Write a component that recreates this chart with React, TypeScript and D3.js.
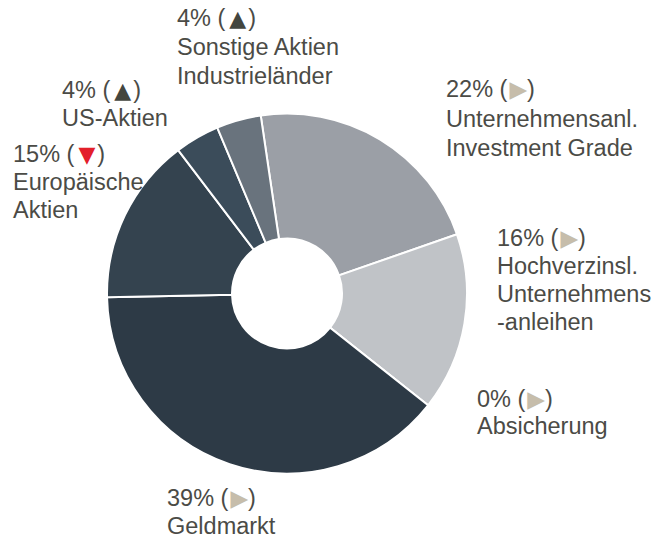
import React from "react";
import * as d3 from "d3";

const categories = [
  "Unternehmensanl. Investment Grade",
  "Hochverzinsl. Unternehmensanleihen",
  "Absicherung",
  "Geldmarkt",
  "Europäische Aktien",
  "US-Aktien",
  "Sonstige Aktien Industrieländer",
];
const values = [22, 16, 0, 39, 15, 4, 4];
const trends = ["flat", "flat", "flat", "flat", "down", "up", "up"];
const labelLines = [
  ["Unternehmensanl.", "Investment Grade"],
  ["Hochverzinsl.", "Unternehmens", "-anleihen"],
  ["Absicherung"],
  ["Geldmarkt"],
  ["Europäische", "Aktien"],
  ["US-Aktien"],
  ["Sonstige Aktien", "Industrieländer"],
];
const colors = ["#9b9fa6", "#c0c3c7", "#c0c3c7", "#2d3a46", "#34434f", "#3b4c5a", "#69737d"];

// label layout (x, first baseline, line spacing)
const labelPos: [number, number, number][] = [
  [446, 97, 29.5],
  [497, 246, 28],
  [477, 407, 27],
  [167, 506, 28],
  [13, 162, 28],
  [62, 98, 27.5],
  [177, 26, 29],
];

const trendGlyph: Record<string, string> = { up: "▲", down: "▼", flat: "▶" };
const trendColor: Record<string, string> = { up: "#43463f", down: "#e3202a", flat: "#c6bdab" };
const trendSize: Record<string, number> = { up: 22, down: 22, flat: 23 };

const W = 658;
const H = 541;
const cx = 287;
const cy = 293.5;
const rOuter = 180;
const rInner = 55;

export default function App() {
  const pie = d3
    .pie<number>()
    .sort(null)
    .value((d) => d)
    .startAngle((-8.4 * Math.PI) / 180)
    .endAngle(((360 - 8.4) * Math.PI) / 180);
  const arcs = pie(values);
  const arc = d3.arc<d3.PieArcDatum<number>>().innerRadius(rInner).outerRadius(rOuter);

  return (
    <svg
      width={W}
      height={H}
      style={{ position: "absolute", left: 0, top: 0, background: "#ffffff" }}
      fontFamily="'Liberation Sans', Arial, sans-serif"
    >
      <g transform={`translate(${cx},${cy})`}>
        {arcs.map((a, i) => (
          <path key={categories[i]} d={arc(a) || ""} fill={colors[i]} stroke="#ffffff" strokeWidth={2} />
        ))}
      </g>
      {labelLines.map((lines, i) => {
        const [x, y0, dy] = labelPos[i];
        return (
          <g key={categories[i]} fill="#4b4b46" fontSize={23.5}>
            <text x={x} y={y0}>
              {`${values[i]}% (`}
              <tspan
                dx={trends[i] === "flat" ? 2 : 4}
                fill={trendColor[trends[i]]}
                fontFamily="'DejaVu Sans', sans-serif"
                fontSize={trendSize[trends[i]]}
              >
                {trendGlyph[trends[i]]}
              </tspan>
              <tspan dx={trends[i] === "flat" ? 0 : 2}>{")"}</tspan>
            </text>
            {lines.map((l, j) => (
              <text key={j} x={x} y={y0 + dy * (j + 1)}>
                {l}
              </text>
            ))}
          </g>
        );
      })}
    </svg>
  );
}
